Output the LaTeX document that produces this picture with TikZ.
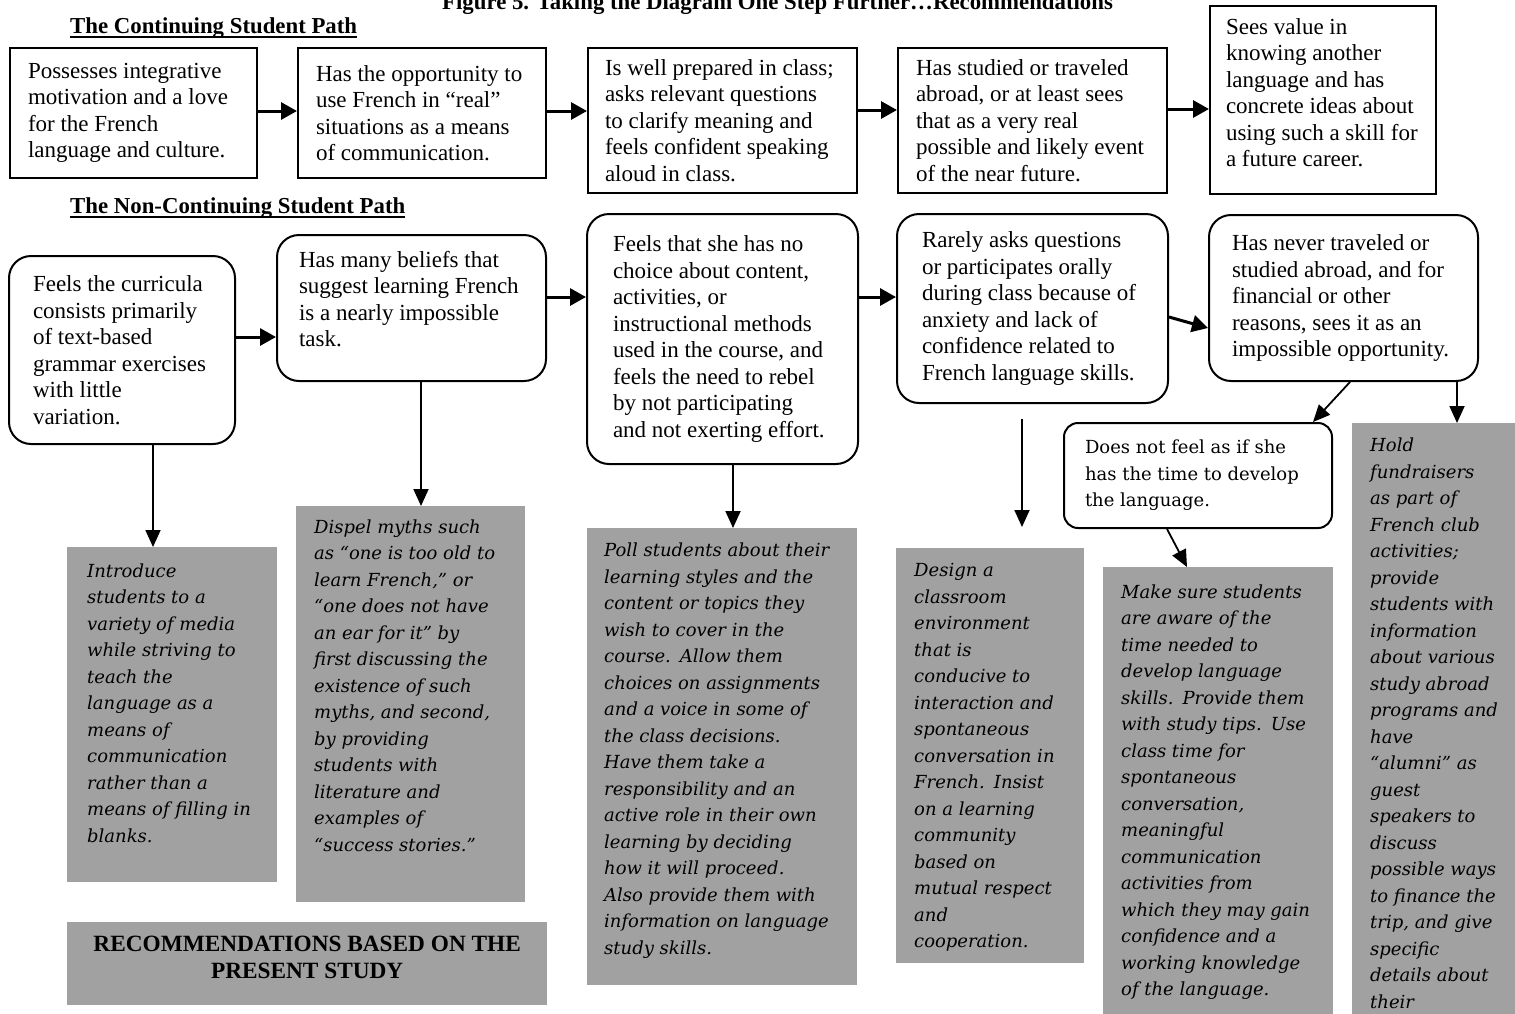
\documentclass[tikz,border=0pt]{standalone}
\usepackage{fontspec}
\setmainfont{Liberation Serif}
\newfontfamily\recfont{DejaVu Serif}
\usetikzlibrary{arrows.meta}

\newcommand{\ulhead}[1]{\vtop{\hbox{#1}\kern-2pt\hrule height 2pt}}
\newcommand{\padbelow}[1]{\rule[-#1]{0pt}{#1}}

\tikzset{
  plainspace/.style={execute at begin node={\spaceskip=0pt\xspaceskip=0pt}},
  heading/.style={anchor=base west, inner sep=0pt, font=\bfseries\fontsize{22.8}{26}\selectfont},
  pathbox/.style={draw, line width=2pt, anchor=north west, align=left, inner xsep=18pt, inner ysep=0pt,
    plainspace, font=\fontsize{23}{26.5}\selectfont},
  roundbox/.style={draw, line width=2pt, rounded corners=22pt, anchor=north west, align=left,
    inner xsep=23pt, inner ysep=0pt, plainspace, font=\fontsize{23}{26.5}\selectfont},
  recbox/.style={fill=black!37, anchor=north west, align=left, inner xsep=18pt, inner ysep=0pt,
    plainspace, font=\recfont\itshape\fontsize{18}{26.5}\selectfont},
  flow/.style={line width=3pt, -{Triangle[length=16pt,width=17pt]}},
  drop/.style={line width=1.8pt, -{Triangle[length=17pt,width=15pt]}},
}

\begin{document}
\begin{tikzpicture}[x=1pt, y=-1pt]
\path[use as bounding box, fill=white] (0,0) rectangle (1515,1013);

\node[heading] (title) at (442,9) {Figure 5. Taking the Diagram One Step Further…Recommendations};
\node[heading] (hcont) at (70,33) {\ulhead{The Continuing Student Path}};
\node[heading] (hnon) at (70,213) {\ulhead{The Non-Continuing Student Path}};

% continuing path
\node[pathbox, text width=211pt, minimum height=130pt] (a1) at (9,47)
  {Possesses integrative\\motivation and a love\\for the French\\language and culture.};
\node[pathbox, text width=212pt, minimum height=130pt] (a2) at (297,47)
  {Has the opportunity to\\use French in “real”\\situations as a means\\of communication.};
\node[pathbox, inner xsep=17pt, text width=235pt, minimum height=145pt] (a3) at (587,47)
  {Is well prepared in class;\\asks relevant questions\\to clarify meaning and\\feels confident speaking\\aloud in class.};
\node[pathbox, text width=233pt, minimum height=145pt] (a4) at (897,47)
  {Has studied or traveled\\abroad, or at least sees\\that as a very real\\possible and likely event\\of the near future.};
\node[pathbox, inner xsep=16pt, text width=194pt, minimum height=188pt] (a5) at (1209,5)
  {Sees value in\\knowing another\\language and has\\concrete ideas about\\using such a skill for\\a future career.\padbelow{15pt}};

% non-continuing path
\node[roundbox, inner xsep=24pt, text width=178pt, minimum height=188pt] (b1) at (8,255)
  {Feels the curricula\\consists primarily\\of text-based\\grammar exercises\\with little\\variation.};
\node[roundbox, inner xsep=22pt, text width=225pt, minimum height=146pt] (b2) at (276,234)
  {Has many beliefs that\\suggest learning French\\is a nearly impossible\\task.\padbelow{18pt}};
\node[roundbox, inner xsep=26pt, text width=219pt, minimum height=250pt] (b3) at (586,213)
  {Feels that she has no\\choice about content,\\activities, or\\instructional methods\\used in the course, and\\feels the need to rebel\\by not participating\\and not exerting effort.};
\node[roundbox, inner xsep=25pt, text width=221pt, minimum height=189pt] (b4) at (896,213)
  {Rarely asks questions\\or participates orally\\during class because of\\anxiety and lack of\\confidence related to\\French language skills.};
\node[roundbox, text width=223pt, minimum height=166pt] (b5) at (1208,214)
  {Has never traveled or\\studied abroad, and for\\financial or other\\reasons, sees it as an\\impossible opportunity.};
\node[roundbox, rounded corners=14pt, inner xsep=21pt, font=\recfont\fontsize{18}{26.5}\selectfont,
  text width=226pt, minimum height=105pt] (b6) at (1063,422)
  {Does not feel as if she\\has the time to develop\\the language.};

% recommendations
\node[recbox, inner xsep=20pt, text width=170pt, minimum height=335pt] (r1) at (67,547)
  {Introduce\\students to a\\variety of media\\while striving to\\teach the\\language as a\\means of\\communication\\rather than a\\means of filling in\\blanks.\padbelow{24pt}};
\node[recbox, text width=193pt, minimum height=396pt] (r2) at (296,506)
  {Dispel myths such\\as “one is too old to\\learn French,” or\\“one does not have\\an ear for it” by\\first discussing the\\existence of such\\myths, and second,\\by providing\\students with\\literature and\\examples of\\“success stories.”\padbelow{38pt}};
\node[recbox, inner xsep=17pt, text width=236pt, minimum height=457pt] (r3) at (587,528)
  {Poll students about their\\learning styles and the\\content or topics they\\wish to cover in the\\course.\enspace Allow them\\choices on assignments\\and a voice in some of\\the class decisions.\\Have them take a\\responsibility and an\\active role in their own\\learning by deciding\\how it will proceed.\\Also provide them with\\information on language\\study skills.\padbelow{16pt}};
\node[recbox, text width=152pt, minimum height=415pt] (r4) at (896,548)
  {\rule{0pt}{17pt}Design a\\classroom\\environment\\that is\\conducive to\\interaction and\\spontaneous\\conversation in\\French.\enspace Insist\\on a learning\\community\\based on\\mutual respect\\and\\cooperation.};
\node[recbox, text width=194pt, minimum height=450pt] (r5) at (1103,567)
  {Make sure students\\are aware of the\\time needed to\\develop language\\skills.\enspace Provide them\\with study tips.\enspace Use\\class time for\\spontaneous\\conversation,\\meaningful\\communication\\activities from\\which they may gain\\confidence and a\\working knowledge\\of the language.};
\node[recbox, text width=134pt, minimum height=600pt] (r6) at (1352,423)
  {Hold\\fundraisers\\as part of\\French club\\activities;\\provide\\students with\\information\\about various\\study abroad\\programs and\\have\\“alumni” as\\guest\\speakers to\\discuss\\possible ways\\to finance the\\trip, and give\\specific\\details about\\their};
\node[recbox, align=center, font=\bfseries\fontsize{23.3}{27}\selectfont,
  minimum width=480pt, minimum height=83pt] (r7) at (67,922)
  {RECOMMENDATIONS BASED ON THE\\PRESENT STUDY\padbelow{12pt}};

\coordinate (f1) at (1022,419);
\coordinate (f2) at (1022,527);

\begin{scope}[flow]
\draw (a1.east |- 0,111) -- (a2.west |- 0,111); %a1-a2
\draw (a2.east |- 0,111) -- (a3.west |- 0,111); %a2-a3
\draw (a3.east |- 0,110) -- (a4.west |- 0,110); %a3-a4
\draw (a4.east |- 0,109) -- (a5.west |- 0,109); %a4-a5
\draw (b1.east |- 0,337) -- (b2.west |- 0,337); %b1-b2
\draw (b2.east |- 0,297) -- (b3.west |- 0,297); %b2-b3
\draw (b3.east |- 0,297) -- (b4.west |- 0,297); %b3-b4
\draw (b4.east |- 0,317) -- (b5.west |- 0,328); %b4-b5
\end{scope}

\begin{scope}[drop]
\draw (b1.south -| 153,0) -- (r1.north -| 153,0); %b1-r1
\draw (b2.south -| 421,0) -- (r2.north -| 421,0); %b2-r2
\draw (b3.south -| 733,0) -- (r3.north -| 733,0); %b3-r3
\draw (f1) -- (f2);
\draw (b5.south -| 1350,0) -- (b6.north -| 1313,0); %b5-b6
\draw (b5.south -| 1457,0) -- (r6.north -| 1457,0); %b5-r6
\draw (b6.south -| 1167,0) -- (r5.north -| 1187,0); %b6-r5
\end{scope}

\end{tikzpicture}
\end{document}
